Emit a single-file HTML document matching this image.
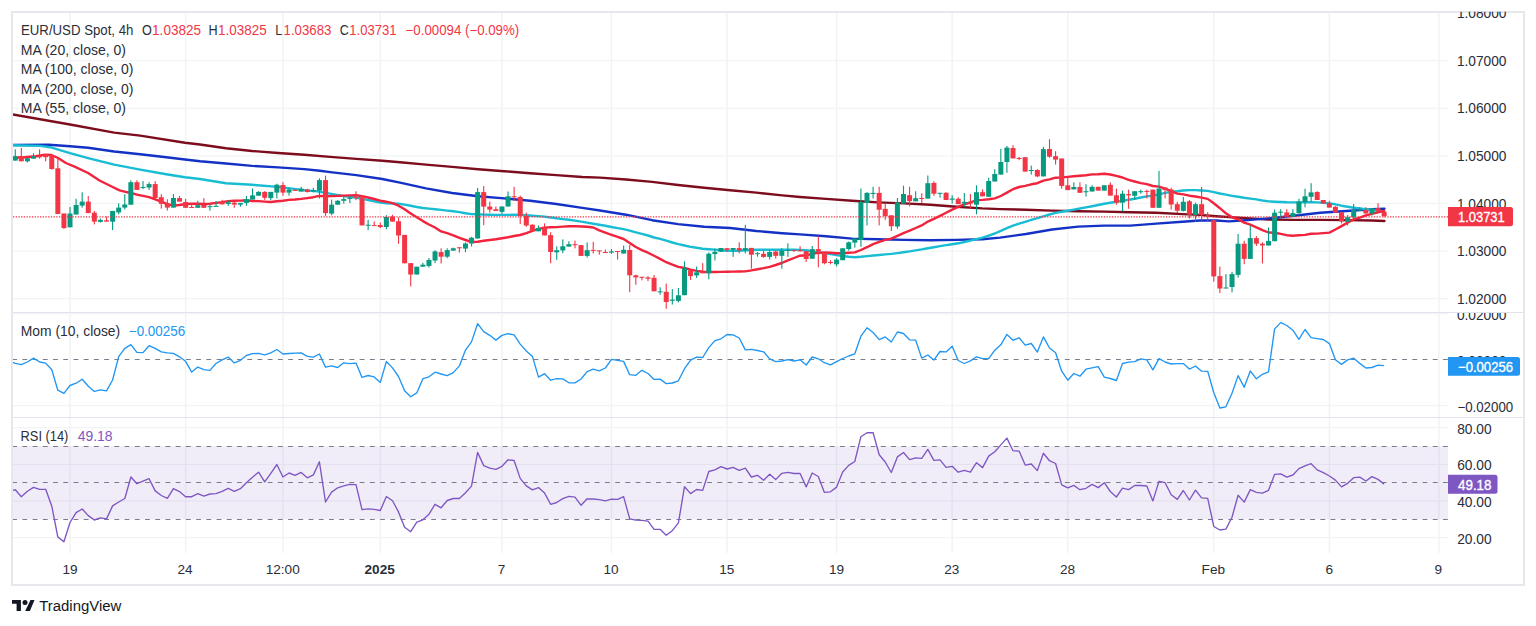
<!DOCTYPE html><html><head><meta charset="utf-8"><title>EUR/USD 4h chart</title><style>html,body{margin:0;padding:0;background:#fff;}body{width:1536px;height:626px;position:relative;overflow:hidden;font-family:"Liberation Sans",sans-serif;}</style></head><body><svg width="1536" height="626" viewBox="0 0 1536 626" style="position:absolute;left:0;top:0" font-family="&quot;Liberation Sans&quot;, sans-serif">
<defs><clipPath id="cm"><rect x="13" y="13" width="1435" height="299"/></clipPath><clipPath id="cmo"><rect x="13" y="313" width="1435" height="104"/></clipPath><clipPath id="cr"><rect x="13" y="418" width="1435" height="135"/></clipPath><clipPath id="cax1"><rect x="1448" y="11.7" width="75" height="300.3"/></clipPath><clipPath id="cax2"><rect x="1448" y="313" width="75" height="104"/></clipPath></defs>
<rect x="69.26" y="13" width="1.5" height="299" fill="#f2f3f5"/>
<rect x="69.26" y="313" width="1.5" height="104" fill="#f2f3f5"/>
<rect x="69.26" y="418" width="1.5" height="135" fill="#f2f3f5"/>
<rect x="184.86" y="13" width="1.5" height="299" fill="#f2f3f5"/>
<rect x="184.86" y="313" width="1.5" height="104" fill="#f2f3f5"/>
<rect x="184.86" y="418" width="1.5" height="135" fill="#f2f3f5"/>
<rect x="282.20" y="13" width="1.5" height="299" fill="#f2f3f5"/>
<rect x="282.20" y="313" width="1.5" height="104" fill="#f2f3f5"/>
<rect x="282.20" y="418" width="1.5" height="135" fill="#f2f3f5"/>
<rect x="379.54" y="13" width="1.5" height="299" fill="#f2f3f5"/>
<rect x="379.54" y="313" width="1.5" height="104" fill="#f2f3f5"/>
<rect x="379.54" y="418" width="1.5" height="135" fill="#f2f3f5"/>
<rect x="501.21" y="13" width="1.5" height="299" fill="#f2f3f5"/>
<rect x="501.21" y="313" width="1.5" height="104" fill="#f2f3f5"/>
<rect x="501.21" y="418" width="1.5" height="135" fill="#f2f3f5"/>
<rect x="610.72" y="13" width="1.5" height="299" fill="#f2f3f5"/>
<rect x="610.72" y="313" width="1.5" height="104" fill="#f2f3f5"/>
<rect x="610.72" y="418" width="1.5" height="135" fill="#f2f3f5"/>
<rect x="726.31" y="13" width="1.5" height="299" fill="#f2f3f5"/>
<rect x="726.31" y="313" width="1.5" height="104" fill="#f2f3f5"/>
<rect x="726.31" y="418" width="1.5" height="135" fill="#f2f3f5"/>
<rect x="835.82" y="13" width="1.5" height="299" fill="#f2f3f5"/>
<rect x="835.82" y="313" width="1.5" height="104" fill="#f2f3f5"/>
<rect x="835.82" y="418" width="1.5" height="135" fill="#f2f3f5"/>
<rect x="951.42" y="13" width="1.5" height="299" fill="#f2f3f5"/>
<rect x="951.42" y="313" width="1.5" height="104" fill="#f2f3f5"/>
<rect x="951.42" y="418" width="1.5" height="135" fill="#f2f3f5"/>
<rect x="1067.01" y="13" width="1.5" height="299" fill="#f2f3f5"/>
<rect x="1067.01" y="313" width="1.5" height="104" fill="#f2f3f5"/>
<rect x="1067.01" y="418" width="1.5" height="135" fill="#f2f3f5"/>
<rect x="1213.02" y="13" width="1.5" height="299" fill="#f2f3f5"/>
<rect x="1213.02" y="313" width="1.5" height="104" fill="#f2f3f5"/>
<rect x="1213.02" y="418" width="1.5" height="135" fill="#f2f3f5"/>
<rect x="1328.61" y="13" width="1.5" height="299" fill="#f2f3f5"/>
<rect x="1328.61" y="313" width="1.5" height="104" fill="#f2f3f5"/>
<rect x="1328.61" y="418" width="1.5" height="135" fill="#f2f3f5"/>
<rect x="1438.12" y="13" width="1.5" height="299" fill="#f2f3f5"/>
<rect x="1438.12" y="313" width="1.5" height="104" fill="#f2f3f5"/>
<rect x="1438.12" y="418" width="1.5" height="135" fill="#f2f3f5"/>
<rect x="13" y="60.00" width="1435" height="1.2" fill="#f2f3f5"/>
<rect x="13" y="107.62" width="1435" height="1.2" fill="#f2f3f5"/>
<rect x="13" y="155.24" width="1435" height="1.2" fill="#f2f3f5"/>
<rect x="13" y="202.86" width="1435" height="1.2" fill="#f2f3f5"/>
<rect x="13" y="250.48" width="1435" height="1.2" fill="#f2f3f5"/>
<rect x="13" y="298.10" width="1435" height="1.2" fill="#f2f3f5"/>
<rect x="13" y="313.20" width="1435" height="1.2" fill="#f2f3f5"/>
<rect x="13" y="405.00" width="1435" height="1.2" fill="#f2f3f5"/>
<rect x="13" y="427.14" width="1435" height="1.2" fill="#f2f3f5"/>
<rect x="13" y="463.76" width="1435" height="1.2" fill="#f2f3f5"/>
<rect x="13" y="500.38" width="1435" height="1.2" fill="#f2f3f5"/>
<rect x="13" y="537.00" width="1435" height="1.2" fill="#f2f3f5"/>
<rect x="13" y="446.05" width="1435" height="73.24" fill="#7e57c2" fill-opacity="0.11"/>
<line x1="12.2" y1="359.50" x2="1448" y2="359.50" stroke="#7a7d88" stroke-width="1.2" stroke-dasharray="4.8 5.42"/>
<line x1="12.2" y1="446.50" x2="1448" y2="446.50" stroke="#7a7d88" stroke-width="1.2" stroke-dasharray="4.8 5.42"/>
<line x1="12.2" y1="482.50" x2="1448" y2="482.50" stroke="#7a7d88" stroke-width="1.2" stroke-dasharray="4.8 5.42"/>
<line x1="12.2" y1="519.50" x2="1448" y2="519.50" stroke="#7a7d88" stroke-width="1.2" stroke-dasharray="4.8 5.42"/>
<rect x="13" y="312" width="1510" height="1" fill="#e0e3eb"/>
<rect x="13" y="417" width="1510" height="1" fill="#e0e3eb"/>
<path d="M11 11H1525V586H11Z M13 13V584H1523V13Z" fill="#e6e8ed" fill-rule="evenodd"/>
<g clip-path="url(#cm)" fill="none" stroke-linejoin="round" stroke-linecap="round">
<polyline points="12.6,114.4 70.0,124.5 114.2,132.6 140.2,135.6 185.0,142.8 200.0,144.5 226.0,148.2 252.1,151.0 278.1,153.0 304.2,154.7 330.2,156.9 356.3,158.9 382.3,160.8 400.0,162.3 426.0,164.6 452.1,166.9 478.1,169.3 504.2,171.2 530.2,173.2 556.3,175.1 582.3,177.0 600.0,177.6 626.0,179.5 652.1,181.9 678.1,185.0 704.2,187.7 730.2,190.2 756.3,192.6 782.3,195.4 800.0,197.0 826.0,198.9 852.1,200.8 878.1,202.4 904.2,203.4 930.2,204.7 956.3,206.7 982.3,208.4 1000.0,209.1 1026.0,209.7 1052.1,210.6 1078.1,211.3 1104.2,211.6 1130.2,212.3 1156.3,212.8 1182.3,214.1 1200.0,214.9 1216.0,216.2 1242.1,217.9 1268.1,219.5 1294.2,219.9 1320.2,219.9 1346.3,220.1 1372.3,220.5 1384.5,221.0" stroke="#7d0c1c" stroke-width="2.4"/>
<polyline points="12.6,145.0 49.0,144.7 70.0,146.3 88.1,147.8 114.2,151.5 140.2,154.3 166.2,157.3 185.0,159.5 200.0,161.3 226.0,163.5 252.1,165.9 278.1,167.4 304.2,169.1 319.8,170.8 330.2,172.1 356.3,175.1 382.3,179.0 400.0,182.7 426.0,188.4 452.1,193.0 478.1,196.2 504.2,198.4 530.2,200.8 556.3,204.0 582.3,207.9 600.0,210.5 626.0,214.7 652.1,220.2 678.1,224.1 704.2,226.7 730.2,228.0 756.3,231.0 782.3,233.2 800.0,234.4 826.0,236.3 852.1,238.6 878.1,239.2 904.2,239.9 930.2,240.2 956.3,239.9 982.3,239.2 1000.0,237.6 1026.0,234.0 1052.1,229.5 1078.1,226.6 1104.2,225.6 1130.2,225.6 1156.3,223.6 1182.3,221.7 1200.0,220.5 1216.0,220.5 1229.0,221.4 1242.1,220.5 1268.1,218.4 1294.2,215.8 1320.2,212.7 1346.3,211.0 1372.3,209.3 1384.5,208.8" stroke="#1431c6" stroke-width="2.4"/>
<polyline points="12.6,145.2 40.0,145.9 50.0,147.2 70.0,153.2 88.1,158.1 114.2,164.6 140.2,169.6 166.2,174.2 185.0,177.2 200.0,179.0 226.0,183.2 252.1,184.8 278.1,186.9 304.2,190.1 317.2,191.4 343.8,196.1 349.9,196.9 356.0,197.5 362.0,198.8 368.1,200.0 374.2,201.2 380.3,202.5 386.4,203.4 392.5,203.5 398.5,203.7 404.6,204.6 410.7,205.8 416.8,207.0 422.9,208.0 429.0,208.6 435.0,209.2 441.1,209.9 447.2,210.6 453.3,211.3 459.4,212.1 465.5,213.2 471.5,214.1 477.6,214.2 483.7,214.6 489.8,214.8 495.9,214.9 502.0,214.9 508.0,214.9 514.1,214.8 520.2,214.9 526.3,215.3 532.4,215.7 538.5,216.1 544.6,216.6 550.6,217.5 556.7,218.3 562.8,219.1 568.9,219.8 575.0,220.6 581.1,221.6 587.1,222.6 593.2,223.7 599.3,224.7 605.4,225.8 611.5,227.0 617.6,228.1 623.6,229.1 629.7,230.7 635.8,232.3 641.9,233.9 648.0,235.5 654.1,237.5 660.1,238.9 666.2,240.7 672.3,242.5 678.4,244.2 684.5,245.5 690.6,246.9 696.6,247.8 702.7,248.7 708.8,249.2 714.9,249.6 721.0,250.2 727.1,250.7 733.1,250.9 739.2,250.7 745.3,250.2 751.4,250.0 757.5,249.8 763.6,249.7 769.7,249.7 775.7,249.7 781.8,249.7 787.9,249.8 794.0,249.8 800.1,249.9 806.2,250.3 812.2,251.4 818.3,252.2 824.4,253.2 830.5,254.1 836.6,255.1 842.7,256.0 848.7,256.8 854.8,257.2 860.9,256.8 867.0,256.1 873.1,255.5 879.2,255.0 885.2,254.4 891.3,253.9 897.4,253.1 903.5,252.2 909.6,251.4 915.7,250.4 921.7,249.4 927.8,248.2 933.9,247.2 940.0,246.1 946.1,245.1 952.2,244.2 958.2,243.3 964.3,242.0 970.4,240.7 976.5,239.1 982.6,237.6 988.7,235.6 994.8,233.5 1000.8,230.9 1006.9,228.2 1013.0,225.7 1019.1,223.7 1025.2,221.8 1031.3,219.9 1037.3,218.2 1043.4,216.3 1049.5,214.5 1055.6,212.9 1061.7,211.8 1067.8,210.7 1073.8,209.6 1079.9,208.5 1086.0,207.4 1092.1,206.2 1098.2,205.0 1104.3,203.8 1110.3,202.7 1116.4,201.8 1122.5,200.8 1128.6,199.8 1134.7,198.7 1140.8,197.5 1146.8,196.4 1152.9,195.6 1159.0,194.3 1165.1,192.9 1171.2,191.9 1177.3,191.3 1183.3,190.5 1189.4,190.1 1195.5,190.1 1201.6,190.5 1207.7,190.9 1213.8,192.2 1219.9,193.5 1225.9,194.6 1232.0,195.9 1238.1,196.8 1244.2,197.8 1250.3,198.6 1256.4,199.4 1262.4,200.5 1268.5,201.4 1274.6,201.7 1280.7,202.0 1286.8,202.3 1292.9,202.4 1298.9,202.4 1305.0,202.3 1311.1,202.3 1317.2,202.4 1323.3,202.8 1329.4,203.4 1335.4,204.3 1341.5,205.7 1347.6,206.7 1353.7,207.7 1359.8,208.4 1365.9,209.1 1371.9,209.7 1378.0,210.9 1384.1,211.9" stroke="#18bdd3" stroke-width="2.4"/>
<polyline points="12.6,157.7 24.5,157.2 36.0,156.2 44.7,154.6 51.4,155.0 58.1,158.0 65.9,163.0 75.1,166.8 88.1,173.0 99.5,180.5 111.6,186.5 119.6,190.4 127.5,192.3 130.9,192.9 136.9,194.6 143.0,195.9 149.1,197.2 155.2,199.3 161.3,201.6 167.4,204.2 173.4,205.6 179.5,205.0 185.6,204.0 191.7,203.7 197.8,203.7 203.9,204.0 209.9,203.7 216.0,202.9 222.1,202.1 228.2,201.1 234.3,200.8 240.4,200.6 246.4,200.3 252.5,201.0 258.6,201.1 264.7,201.6 270.8,202.0 276.9,201.3 282.9,200.8 289.0,199.9 295.1,199.5 301.2,198.9 307.3,198.1 313.4,197.2 319.4,195.9 325.5,196.2 331.6,196.1 337.7,195.9 343.8,195.6 349.9,195.4 356.0,195.1 362.0,196.2 368.1,197.5 374.2,199.0 380.3,200.7 386.4,201.7 392.5,203.2 398.5,205.7 404.6,209.2 410.7,213.5 416.8,217.3 422.9,221.1 429.0,224.5 435.0,227.5 441.1,231.4 447.2,233.2 453.3,235.4 459.4,237.8 465.5,240.0 471.5,242.0 477.6,241.7 483.7,240.8 489.8,240.0 495.9,239.3 502.0,238.2 508.0,237.2 514.1,236.0 520.2,235.0 526.3,233.1 532.4,230.9 538.5,229.0 544.6,227.6 550.6,227.2 556.7,227.1 562.8,226.6 568.9,226.3 575.0,226.1 581.1,226.5 587.1,226.8 593.2,227.5 599.3,230.4 605.4,232.7 611.5,234.8 617.6,236.8 623.6,239.0 629.7,243.0 635.8,247.0 641.9,250.1 648.0,252.7 654.1,255.8 660.1,258.9 666.2,262.2 672.3,264.6 678.4,266.9 684.5,268.0 690.6,269.6 696.6,270.9 702.7,271.8 708.8,272.0 714.9,272.0 721.0,271.9 727.1,271.8 733.1,271.6 739.2,271.5 745.3,271.4 751.4,270.4 757.5,269.2 763.6,268.1 769.7,266.8 775.7,265.0 781.8,263.0 787.9,260.4 794.0,258.0 800.1,255.7 806.2,255.3 812.2,253.9 818.3,252.9 824.4,252.4 830.5,252.8 836.6,253.2 842.7,253.2 848.7,252.8 854.8,252.4 860.9,250.0 867.0,247.2 873.1,244.1 879.2,241.9 885.2,239.9 891.3,238.6 897.4,235.9 903.5,233.1 909.6,230.7 915.7,228.0 921.7,225.4 927.8,221.6 933.9,218.9 940.0,215.9 946.1,212.8 952.2,209.6 958.2,206.8 964.3,204.4 970.4,202.5 976.5,200.2 982.6,199.9 988.7,199.3 994.8,198.4 1000.8,196.0 1006.9,192.6 1013.0,189.2 1019.1,187.0 1025.2,185.9 1031.3,184.3 1037.3,183.2 1043.4,180.7 1049.5,179.4 1055.6,177.7 1061.7,177.4 1067.8,176.9 1073.8,176.3 1079.9,175.7 1086.0,175.2 1092.1,174.4 1098.2,174.3 1104.3,173.7 1110.3,174.5 1116.4,175.9 1122.5,177.5 1128.6,179.9 1134.7,181.5 1140.8,183.1 1146.8,184.1 1152.9,186.0 1159.0,186.6 1165.1,188.7 1171.2,191.1 1177.3,193.6 1183.3,194.4 1189.4,195.7 1195.5,196.5 1201.6,197.6 1207.7,198.9 1213.8,203.3 1219.9,208.2 1225.9,213.3 1232.0,217.3 1238.1,219.3 1244.2,222.6 1250.3,224.7 1256.4,227.3 1262.4,230.1 1268.5,232.5 1274.6,232.8 1280.7,233.9 1286.8,235.2 1292.9,235.7 1298.9,235.2 1305.0,234.9 1311.1,233.8 1317.2,233.6 1323.3,233.1 1329.4,232.6 1335.4,229.5 1341.5,226.1 1347.6,222.6 1353.7,219.4 1359.8,217.7 1365.9,215.4 1371.9,213.9 1378.0,212.3 1384.1,210.8" stroke="#f2233d" stroke-width="2.4"/>
</g>
<g clip-path="url(#cm)">
<rect x="14.71" y="149.3" width="1.1" height="11.3" fill="#089981"/>
<rect x="12.76" y="156.3" width="5.0" height="4.3" fill="#089981"/>
<rect x="20.79" y="147.9" width="1.1" height="13.4" fill="#F23645"/>
<rect x="18.84" y="156.1" width="5.0" height="5.2" fill="#F23645"/>
<rect x="26.88" y="158.2" width="1.1" height="4.3" fill="#089981"/>
<rect x="24.93" y="158.2" width="5.0" height="3.1" fill="#089981"/>
<rect x="32.96" y="153.2" width="1.1" height="5.5" fill="#089981"/>
<rect x="31.01" y="156.0" width="5.0" height="2.7" fill="#089981"/>
<rect x="39.05" y="149.3" width="1.1" height="9.4" fill="#F23645"/>
<rect x="37.10" y="155.8" width="5.0" height="1.5" fill="#F23645"/>
<rect x="45.13" y="153.9" width="1.1" height="7.4" fill="#F23645"/>
<rect x="43.18" y="154.6" width="5.0" height="2.6" fill="#F23645"/>
<rect x="51.21" y="154.4" width="1.1" height="15.3" fill="#F23645"/>
<rect x="49.26" y="155.4" width="5.0" height="13.6" fill="#F23645"/>
<rect x="57.30" y="158.8" width="1.1" height="55.2" fill="#F23645"/>
<rect x="55.35" y="168.3" width="5.0" height="45.7" fill="#F23645"/>
<rect x="63.38" y="213.5" width="1.1" height="15.5" fill="#F23645"/>
<rect x="61.43" y="213.5" width="5.0" height="14.5" fill="#F23645"/>
<rect x="69.46" y="207.0" width="1.1" height="20.3" fill="#089981"/>
<rect x="67.51" y="213.5" width="5.0" height="13.8" fill="#089981"/>
<rect x="75.55" y="198.8" width="1.1" height="15.7" fill="#089981"/>
<rect x="73.60" y="205.0" width="5.0" height="9.5" fill="#089981"/>
<rect x="81.63" y="192.3" width="1.1" height="15.4" fill="#089981"/>
<rect x="79.68" y="201.6" width="5.0" height="4.0" fill="#089981"/>
<rect x="87.72" y="196.1" width="1.1" height="17.0" fill="#F23645"/>
<rect x="85.77" y="201.6" width="5.0" height="11.5" fill="#F23645"/>
<rect x="93.80" y="211.0" width="1.1" height="13.4" fill="#F23645"/>
<rect x="91.85" y="212.7" width="5.0" height="8.9" fill="#F23645"/>
<rect x="99.88" y="218.5" width="1.1" height="4.1" fill="#089981"/>
<rect x="97.93" y="219.9" width="5.0" height="2.0" fill="#089981"/>
<rect x="105.97" y="216.5" width="1.1" height="5.1" fill="#F23645"/>
<rect x="104.02" y="220.3" width="5.0" height="1.3" fill="#F23645"/>
<rect x="112.05" y="210.8" width="1.1" height="19.3" fill="#089981"/>
<rect x="110.10" y="211.0" width="5.0" height="10.7" fill="#089981"/>
<rect x="118.13" y="203.3" width="1.1" height="11.0" fill="#089981"/>
<rect x="116.18" y="207.6" width="5.0" height="4.8" fill="#089981"/>
<rect x="124.22" y="194.2" width="1.1" height="15.3" fill="#089981"/>
<rect x="122.27" y="204.5" width="5.0" height="3.1" fill="#089981"/>
<rect x="130.30" y="180.3" width="1.1" height="24.4" fill="#089981"/>
<rect x="128.35" y="182.2" width="5.0" height="22.5" fill="#089981"/>
<rect x="136.39" y="180.3" width="1.1" height="9.6" fill="#F23645"/>
<rect x="134.44" y="182.2" width="5.0" height="7.7" fill="#F23645"/>
<rect x="142.47" y="181.2" width="1.1" height="8.0" fill="#089981"/>
<rect x="140.52" y="187.0" width="5.0" height="1.0" fill="#089981"/>
<rect x="148.55" y="182.2" width="1.1" height="7.7" fill="#089981"/>
<rect x="146.60" y="184.1" width="5.0" height="3.4" fill="#089981"/>
<rect x="154.64" y="181.2" width="1.1" height="16.8" fill="#F23645"/>
<rect x="152.69" y="184.1" width="5.0" height="13.9" fill="#F23645"/>
<rect x="160.72" y="194.2" width="1.1" height="14.4" fill="#F23645"/>
<rect x="158.77" y="197.2" width="5.0" height="6.6" fill="#F23645"/>
<rect x="166.80" y="199.2" width="1.1" height="11.3" fill="#F23645"/>
<rect x="164.85" y="203.3" width="5.0" height="4.3" fill="#F23645"/>
<rect x="172.89" y="194.2" width="1.1" height="13.4" fill="#089981"/>
<rect x="170.94" y="198.0" width="5.0" height="9.6" fill="#089981"/>
<rect x="178.97" y="196.0" width="1.1" height="5.6" fill="#F23645"/>
<rect x="177.02" y="198.1" width="5.0" height="3.5" fill="#F23645"/>
<rect x="185.06" y="198.8" width="1.1" height="9.0" fill="#F23645"/>
<rect x="183.11" y="202.0" width="5.0" height="5.8" fill="#F23645"/>
<rect x="191.14" y="204.0" width="1.1" height="3.8" fill="#F23645"/>
<rect x="189.19" y="207.0" width="5.0" height="1.0" fill="#F23645"/>
<rect x="197.22" y="200.8" width="1.1" height="7.0" fill="#089981"/>
<rect x="195.27" y="205.2" width="5.0" height="2.6" fill="#089981"/>
<rect x="203.31" y="198.2" width="1.1" height="9.6" fill="#F23645"/>
<rect x="201.36" y="204.9" width="5.0" height="2.9" fill="#F23645"/>
<rect x="209.39" y="204.3" width="1.1" height="6.4" fill="#089981"/>
<rect x="207.44" y="206.2" width="5.0" height="1.0" fill="#089981"/>
<rect x="215.48" y="201.0" width="1.1" height="5.7" fill="#089981"/>
<rect x="213.53" y="205.9" width="5.0" height="1.0" fill="#089981"/>
<rect x="221.56" y="199.8" width="1.1" height="4.8" fill="#F23645"/>
<rect x="219.61" y="201.7" width="5.0" height="2.6" fill="#F23645"/>
<rect x="227.64" y="200.4" width="1.1" height="5.5" fill="#089981"/>
<rect x="225.69" y="202.3" width="5.0" height="1.7" fill="#089981"/>
<rect x="233.73" y="201.0" width="1.1" height="6.8" fill="#F23645"/>
<rect x="231.78" y="202.7" width="5.0" height="1.9" fill="#F23645"/>
<rect x="239.81" y="202.9" width="1.1" height="3.8" fill="#089981"/>
<rect x="237.86" y="202.9" width="5.0" height="1.7" fill="#089981"/>
<rect x="245.89" y="196.0" width="1.1" height="9.7" fill="#089981"/>
<rect x="243.94" y="199.1" width="5.0" height="3.8" fill="#089981"/>
<rect x="251.98" y="188.5" width="1.1" height="11.0" fill="#089981"/>
<rect x="250.03" y="195.4" width="5.0" height="4.1" fill="#089981"/>
<rect x="258.06" y="191.2" width="1.1" height="4.5" fill="#089981"/>
<rect x="256.11" y="191.9" width="5.0" height="3.8" fill="#089981"/>
<rect x="264.15" y="191.2" width="1.1" height="8.6" fill="#F23645"/>
<rect x="262.20" y="191.9" width="5.0" height="5.9" fill="#F23645"/>
<rect x="270.23" y="191.9" width="1.1" height="8.3" fill="#089981"/>
<rect x="268.28" y="191.9" width="5.0" height="6.2" fill="#089981"/>
<rect x="276.31" y="183.7" width="1.1" height="14.7" fill="#089981"/>
<rect x="274.36" y="184.7" width="5.0" height="7.9" fill="#089981"/>
<rect x="282.40" y="182.2" width="1.1" height="13.5" fill="#F23645"/>
<rect x="280.45" y="185.0" width="5.0" height="7.6" fill="#F23645"/>
<rect x="288.48" y="187.8" width="1.1" height="7.9" fill="#089981"/>
<rect x="286.53" y="189.5" width="5.0" height="3.1" fill="#089981"/>
<rect x="294.56" y="189.7" width="1.1" height="1.2" fill="#F23645"/>
<rect x="292.61" y="189.7" width="5.0" height="1.2" fill="#F23645"/>
<rect x="300.65" y="186.8" width="1.1" height="4.8" fill="#089981"/>
<rect x="298.70" y="188.8" width="5.0" height="2.8" fill="#089981"/>
<rect x="306.73" y="188.8" width="1.1" height="3.8" fill="#F23645"/>
<rect x="304.78" y="189.5" width="5.0" height="2.5" fill="#F23645"/>
<rect x="312.82" y="187.7" width="1.1" height="4.7" fill="#089981"/>
<rect x="310.87" y="190.1" width="5.0" height="1.4" fill="#089981"/>
<rect x="318.90" y="178.4" width="1.1" height="20.1" fill="#089981"/>
<rect x="316.95" y="180.1" width="5.0" height="10.6" fill="#089981"/>
<rect x="324.98" y="175.6" width="1.1" height="40.3" fill="#F23645"/>
<rect x="323.03" y="180.1" width="5.0" height="33.0" fill="#F23645"/>
<rect x="331.07" y="199.6" width="1.1" height="15.7" fill="#089981"/>
<rect x="329.12" y="204.7" width="5.0" height="8.9" fill="#089981"/>
<rect x="337.15" y="200.0" width="1.1" height="4.7" fill="#089981"/>
<rect x="335.20" y="200.8" width="5.0" height="3.9" fill="#089981"/>
<rect x="343.24" y="196.3" width="1.1" height="7.3" fill="#089981"/>
<rect x="341.29" y="199.1" width="5.0" height="1.7" fill="#089981"/>
<rect x="349.32" y="196.8" width="1.1" height="6.2" fill="#089981"/>
<rect x="347.37" y="197.7" width="5.0" height="1.2" fill="#089981"/>
<rect x="355.40" y="191.3" width="1.1" height="8.9" fill="#F23645"/>
<rect x="353.45" y="196.8" width="5.0" height="1.2" fill="#F23645"/>
<rect x="361.49" y="197.4" width="1.1" height="28.0" fill="#F23645"/>
<rect x="359.54" y="197.4" width="5.0" height="28.0" fill="#F23645"/>
<rect x="367.57" y="219.9" width="1.1" height="10.2" fill="#089981"/>
<rect x="365.62" y="224.7" width="5.0" height="1.0" fill="#089981"/>
<rect x="373.65" y="221.3" width="1.1" height="4.3" fill="#F23645"/>
<rect x="371.70" y="225.1" width="5.0" height="1.0" fill="#F23645"/>
<rect x="379.74" y="222.6" width="1.1" height="5.5" fill="#F23645"/>
<rect x="377.79" y="225.1" width="5.0" height="1.9" fill="#F23645"/>
<rect x="385.82" y="215.2" width="1.1" height="14.0" fill="#089981"/>
<rect x="383.87" y="216.9" width="5.0" height="10.1" fill="#089981"/>
<rect x="391.91" y="214.8" width="1.1" height="6.8" fill="#F23645"/>
<rect x="389.96" y="216.5" width="5.0" height="5.1" fill="#F23645"/>
<rect x="397.99" y="217.5" width="1.1" height="26.2" fill="#F23645"/>
<rect x="396.04" y="221.3" width="5.0" height="14.2" fill="#F23645"/>
<rect x="404.07" y="234.9" width="1.1" height="28.4" fill="#F23645"/>
<rect x="402.12" y="234.9" width="5.0" height="28.4" fill="#F23645"/>
<rect x="410.16" y="263.1" width="1.1" height="23.3" fill="#F23645"/>
<rect x="408.21" y="263.1" width="5.0" height="11.4" fill="#F23645"/>
<rect x="416.24" y="266.7" width="1.1" height="7.8" fill="#089981"/>
<rect x="414.29" y="266.7" width="5.0" height="7.8" fill="#089981"/>
<rect x="422.32" y="262.7" width="1.1" height="4.0" fill="#089981"/>
<rect x="420.37" y="264.7" width="5.0" height="2.0" fill="#089981"/>
<rect x="428.41" y="258.0" width="1.1" height="9.4" fill="#089981"/>
<rect x="426.46" y="260.0" width="5.0" height="6.0" fill="#089981"/>
<rect x="434.49" y="250.1" width="1.1" height="13.1" fill="#089981"/>
<rect x="432.54" y="251.4" width="5.0" height="9.1" fill="#089981"/>
<rect x="440.58" y="248.3" width="1.1" height="15.2" fill="#F23645"/>
<rect x="438.63" y="252.1" width="5.0" height="4.6" fill="#F23645"/>
<rect x="446.66" y="248.3" width="1.1" height="9.9" fill="#089981"/>
<rect x="444.71" y="250.1" width="5.0" height="6.6" fill="#089981"/>
<rect x="452.74" y="247.6" width="1.1" height="3.0" fill="#089981"/>
<rect x="450.79" y="248.3" width="5.0" height="2.3" fill="#089981"/>
<rect x="458.83" y="247.3" width="1.1" height="5.3" fill="#F23645"/>
<rect x="456.88" y="247.3" width="5.0" height="1.0" fill="#F23645"/>
<rect x="464.91" y="242.3" width="1.1" height="9.8" fill="#089981"/>
<rect x="462.96" y="243.5" width="5.0" height="5.1" fill="#089981"/>
<rect x="471.00" y="236.9" width="1.1" height="9.6" fill="#089981"/>
<rect x="469.05" y="237.7" width="5.0" height="5.8" fill="#089981"/>
<rect x="477.08" y="187.9" width="1.1" height="50.6" fill="#089981"/>
<rect x="475.13" y="192.1" width="5.0" height="46.4" fill="#089981"/>
<rect x="483.16" y="186.1" width="1.1" height="39.1" fill="#F23645"/>
<rect x="481.21" y="192.1" width="5.0" height="14.5" fill="#F23645"/>
<rect x="489.25" y="201.6" width="1.1" height="11.0" fill="#F23645"/>
<rect x="487.30" y="206.6" width="5.0" height="3.0" fill="#F23645"/>
<rect x="495.33" y="206.5" width="1.1" height="4.4" fill="#F23645"/>
<rect x="493.38" y="209.2" width="5.0" height="1.7" fill="#F23645"/>
<rect x="501.41" y="206.5" width="1.1" height="7.4" fill="#089981"/>
<rect x="499.46" y="206.5" width="5.0" height="5.4" fill="#089981"/>
<rect x="507.50" y="191.5" width="1.1" height="15.0" fill="#089981"/>
<rect x="505.55" y="196.3" width="5.0" height="10.2" fill="#089981"/>
<rect x="513.58" y="186.8" width="1.1" height="14.2" fill="#F23645"/>
<rect x="511.63" y="196.3" width="5.0" height="1.0" fill="#F23645"/>
<rect x="519.67" y="195.6" width="1.1" height="28.5" fill="#F23645"/>
<rect x="517.72" y="197.0" width="5.0" height="19.0" fill="#F23645"/>
<rect x="525.75" y="212.6" width="1.1" height="14.2" fill="#F23645"/>
<rect x="523.80" y="216.0" width="5.0" height="9.5" fill="#F23645"/>
<rect x="531.83" y="224.1" width="1.1" height="6.8" fill="#F23645"/>
<rect x="529.88" y="224.8" width="5.0" height="6.1" fill="#F23645"/>
<rect x="537.92" y="225.5" width="1.1" height="5.8" fill="#089981"/>
<rect x="535.97" y="228.2" width="5.0" height="3.1" fill="#089981"/>
<rect x="544.00" y="223.4" width="1.1" height="12.0" fill="#F23645"/>
<rect x="542.05" y="226.8" width="5.0" height="8.6" fill="#F23645"/>
<rect x="550.08" y="232.2" width="1.1" height="31.0" fill="#F23645"/>
<rect x="548.13" y="235.1" width="5.0" height="16.9" fill="#F23645"/>
<rect x="556.17" y="246.3" width="1.1" height="13.5" fill="#089981"/>
<rect x="554.22" y="250.2" width="5.0" height="2.1" fill="#089981"/>
<rect x="562.25" y="239.4" width="1.1" height="13.8" fill="#089981"/>
<rect x="560.30" y="246.3" width="5.0" height="4.1" fill="#089981"/>
<rect x="568.34" y="241.2" width="1.1" height="5.4" fill="#089981"/>
<rect x="566.39" y="244.2" width="5.0" height="2.4" fill="#089981"/>
<rect x="574.42" y="240.6" width="1.1" height="7.8" fill="#F23645"/>
<rect x="572.47" y="244.2" width="5.0" height="1.0" fill="#F23645"/>
<rect x="580.50" y="245.1" width="1.1" height="10.8" fill="#F23645"/>
<rect x="578.55" y="245.1" width="5.0" height="10.8" fill="#F23645"/>
<rect x="586.59" y="242.4" width="1.1" height="15.2" fill="#089981"/>
<rect x="584.64" y="250.2" width="5.0" height="5.7" fill="#089981"/>
<rect x="592.67" y="241.8" width="1.1" height="11.7" fill="#F23645"/>
<rect x="590.72" y="249.9" width="5.0" height="1.0" fill="#F23645"/>
<rect x="598.75" y="250.4" width="1.1" height="4.3" fill="#F23645"/>
<rect x="596.80" y="250.4" width="5.0" height="1.0" fill="#F23645"/>
<rect x="604.84" y="249.6" width="1.1" height="3.0" fill="#F23645"/>
<rect x="602.89" y="252.0" width="5.0" height="1.0" fill="#F23645"/>
<rect x="610.92" y="249.0" width="1.1" height="4.8" fill="#089981"/>
<rect x="608.97" y="251.4" width="5.0" height="1.2" fill="#089981"/>
<rect x="617.01" y="251.0" width="1.1" height="8.6" fill="#F23645"/>
<rect x="615.06" y="251.0" width="5.0" height="1.0" fill="#F23645"/>
<rect x="623.09" y="245.5" width="1.1" height="8.0" fill="#089981"/>
<rect x="621.14" y="249.8" width="5.0" height="3.7" fill="#089981"/>
<rect x="629.17" y="244.8" width="1.1" height="47.4" fill="#F23645"/>
<rect x="627.22" y="250.0" width="5.0" height="25.3" fill="#F23645"/>
<rect x="635.26" y="274.6" width="1.1" height="10.2" fill="#F23645"/>
<rect x="633.31" y="275.3" width="5.0" height="2.1" fill="#F23645"/>
<rect x="641.34" y="276.8" width="1.1" height="3.5" fill="#F23645"/>
<rect x="639.39" y="276.8" width="5.0" height="1.0" fill="#F23645"/>
<rect x="647.43" y="276.2" width="1.1" height="4.9" fill="#F23645"/>
<rect x="645.48" y="277.4" width="5.0" height="1.3" fill="#F23645"/>
<rect x="653.51" y="275.0" width="1.1" height="16.3" fill="#F23645"/>
<rect x="651.56" y="277.8" width="5.0" height="13.5" fill="#F23645"/>
<rect x="659.59" y="287.3" width="1.1" height="7.4" fill="#089981"/>
<rect x="657.64" y="291.3" width="5.0" height="1.0" fill="#089981"/>
<rect x="665.68" y="283.6" width="1.1" height="25.2" fill="#F23645"/>
<rect x="663.73" y="291.8" width="5.0" height="10.2" fill="#F23645"/>
<rect x="671.76" y="289.1" width="1.1" height="15.4" fill="#089981"/>
<rect x="669.81" y="299.6" width="5.0" height="1.2" fill="#089981"/>
<rect x="677.84" y="288.0" width="1.1" height="14.4" fill="#089981"/>
<rect x="675.89" y="295.3" width="5.0" height="5.6" fill="#089981"/>
<rect x="683.93" y="261.4" width="1.1" height="33.8" fill="#089981"/>
<rect x="681.98" y="268.4" width="5.0" height="26.8" fill="#089981"/>
<rect x="690.01" y="270.3" width="1.1" height="9.6" fill="#F23645"/>
<rect x="688.06" y="270.3" width="5.0" height="5.8" fill="#F23645"/>
<rect x="696.10" y="266.5" width="1.1" height="11.5" fill="#089981"/>
<rect x="694.15" y="272.3" width="5.0" height="3.1" fill="#089981"/>
<rect x="702.18" y="263.1" width="1.1" height="10.2" fill="#F23645"/>
<rect x="700.23" y="272.3" width="5.0" height="1.0" fill="#F23645"/>
<rect x="708.26" y="252.5" width="1.1" height="26.8" fill="#089981"/>
<rect x="706.31" y="253.7" width="5.0" height="19.6" fill="#089981"/>
<rect x="714.35" y="248.6" width="1.1" height="11.9" fill="#089981"/>
<rect x="712.40" y="251.8" width="5.0" height="2.3" fill="#089981"/>
<rect x="720.43" y="248.0" width="1.1" height="3.8" fill="#089981"/>
<rect x="718.48" y="248.0" width="5.0" height="3.8" fill="#089981"/>
<rect x="726.51" y="248.2" width="1.1" height="3.6" fill="#F23645"/>
<rect x="724.56" y="248.2" width="5.0" height="1.7" fill="#F23645"/>
<rect x="732.60" y="248.0" width="1.1" height="8.9" fill="#089981"/>
<rect x="730.65" y="248.0" width="5.0" height="1.9" fill="#089981"/>
<rect x="738.68" y="242.3" width="1.1" height="11.0" fill="#F23645"/>
<rect x="736.73" y="248.1" width="5.0" height="2.3" fill="#F23645"/>
<rect x="744.77" y="224.8" width="1.1" height="28.6" fill="#089981"/>
<rect x="742.82" y="248.1" width="5.0" height="2.2" fill="#089981"/>
<rect x="750.85" y="247.9" width="1.1" height="20.8" fill="#F23645"/>
<rect x="748.90" y="247.9" width="5.0" height="6.8" fill="#F23645"/>
<rect x="756.93" y="252.0" width="1.1" height="4.7" fill="#089981"/>
<rect x="754.98" y="253.2" width="5.0" height="1.0" fill="#089981"/>
<rect x="763.02" y="250.9" width="1.1" height="6.9" fill="#F23645"/>
<rect x="761.07" y="253.8" width="5.0" height="3.1" fill="#F23645"/>
<rect x="769.10" y="250.3" width="1.1" height="9.2" fill="#089981"/>
<rect x="767.15" y="252.0" width="5.0" height="4.9" fill="#089981"/>
<rect x="775.19" y="250.7" width="1.1" height="7.9" fill="#F23645"/>
<rect x="773.24" y="251.6" width="5.0" height="4.2" fill="#F23645"/>
<rect x="781.27" y="248.1" width="1.1" height="20.6" fill="#089981"/>
<rect x="779.32" y="250.7" width="5.0" height="5.1" fill="#089981"/>
<rect x="787.35" y="243.3" width="1.1" height="13.6" fill="#089981"/>
<rect x="785.40" y="250.0" width="5.0" height="1.0" fill="#089981"/>
<rect x="793.44" y="249.9" width="1.1" height="2.1" fill="#F23645"/>
<rect x="791.49" y="249.9" width="5.0" height="1.0" fill="#F23645"/>
<rect x="799.52" y="246.2" width="1.1" height="5.4" fill="#F23645"/>
<rect x="797.57" y="250.3" width="5.0" height="1.0" fill="#F23645"/>
<rect x="805.60" y="251.1" width="1.1" height="10.9" fill="#F23645"/>
<rect x="803.65" y="251.1" width="5.0" height="7.9" fill="#F23645"/>
<rect x="811.69" y="246.0" width="1.1" height="12.7" fill="#089981"/>
<rect x="809.74" y="249.1" width="5.0" height="9.6" fill="#089981"/>
<rect x="817.77" y="236.2" width="1.1" height="31.1" fill="#F23645"/>
<rect x="815.82" y="249.1" width="5.0" height="2.3" fill="#F23645"/>
<rect x="823.86" y="252.6" width="1.1" height="11.7" fill="#F23645"/>
<rect x="821.91" y="252.6" width="5.0" height="10.6" fill="#F23645"/>
<rect x="829.94" y="260.2" width="1.1" height="4.1" fill="#F23645"/>
<rect x="827.99" y="262.0" width="5.0" height="1.0" fill="#F23645"/>
<rect x="836.02" y="258.2" width="1.1" height="8.3" fill="#089981"/>
<rect x="834.07" y="259.7" width="5.0" height="4.6" fill="#089981"/>
<rect x="842.11" y="248.3" width="1.1" height="11.9" fill="#089981"/>
<rect x="840.16" y="248.3" width="5.0" height="11.9" fill="#089981"/>
<rect x="848.19" y="241.5" width="1.1" height="9.1" fill="#089981"/>
<rect x="846.24" y="242.3" width="5.0" height="6.8" fill="#089981"/>
<rect x="854.27" y="238.5" width="1.1" height="9.1" fill="#089981"/>
<rect x="852.32" y="238.5" width="5.0" height="4.1" fill="#089981"/>
<rect x="860.36" y="188.5" width="1.1" height="58.3" fill="#089981"/>
<rect x="858.41" y="202.0" width="5.0" height="38.0" fill="#089981"/>
<rect x="866.44" y="192.1" width="1.1" height="33.3" fill="#089981"/>
<rect x="864.49" y="192.9" width="5.0" height="10.1" fill="#089981"/>
<rect x="872.53" y="186.8" width="1.1" height="11.7" fill="#089981"/>
<rect x="870.58" y="192.9" width="5.0" height="1.1" fill="#089981"/>
<rect x="878.61" y="186.8" width="1.1" height="38.6" fill="#F23645"/>
<rect x="876.66" y="192.9" width="5.0" height="16.8" fill="#F23645"/>
<rect x="884.69" y="203.6" width="1.1" height="16.2" fill="#F23645"/>
<rect x="882.74" y="208.9" width="5.0" height="7.2" fill="#F23645"/>
<rect x="890.78" y="215.3" width="1.1" height="15.7" fill="#F23645"/>
<rect x="888.83" y="215.3" width="5.0" height="10.9" fill="#F23645"/>
<rect x="896.86" y="198.0" width="1.1" height="30.7" fill="#089981"/>
<rect x="894.91" y="202.4" width="5.0" height="24.1" fill="#089981"/>
<rect x="902.94" y="185.7" width="1.1" height="17.9" fill="#089981"/>
<rect x="900.99" y="194.0" width="5.0" height="9.6" fill="#089981"/>
<rect x="909.03" y="186.8" width="1.1" height="19.6" fill="#F23645"/>
<rect x="907.08" y="195.2" width="5.0" height="5.9" fill="#F23645"/>
<rect x="915.11" y="191.3" width="1.1" height="10.0" fill="#089981"/>
<rect x="913.16" y="198.2" width="5.0" height="3.1" fill="#089981"/>
<rect x="921.20" y="193.3" width="1.1" height="9.7" fill="#F23645"/>
<rect x="919.25" y="198.0" width="5.0" height="1.0" fill="#F23645"/>
<rect x="927.28" y="175.5" width="1.1" height="23.1" fill="#089981"/>
<rect x="925.33" y="183.2" width="5.0" height="15.4" fill="#089981"/>
<rect x="933.36" y="181.4" width="1.1" height="14.4" fill="#F23645"/>
<rect x="931.41" y="182.9" width="5.0" height="10.8" fill="#F23645"/>
<rect x="939.45" y="192.8" width="1.1" height="4.8" fill="#089981"/>
<rect x="937.50" y="192.8" width="5.0" height="1.0" fill="#089981"/>
<rect x="945.53" y="192.2" width="1.1" height="7.8" fill="#F23645"/>
<rect x="943.58" y="192.8" width="5.0" height="7.2" fill="#F23645"/>
<rect x="951.62" y="195.2" width="1.1" height="8.3" fill="#089981"/>
<rect x="949.67" y="198.5" width="5.0" height="1.2" fill="#089981"/>
<rect x="957.70" y="197.3" width="1.1" height="6.8" fill="#F23645"/>
<rect x="955.75" y="198.8" width="5.0" height="5.3" fill="#F23645"/>
<rect x="963.78" y="193.0" width="1.1" height="14.1" fill="#089981"/>
<rect x="961.83" y="201.8" width="5.0" height="1.7" fill="#089981"/>
<rect x="969.87" y="194.0" width="1.1" height="14.3" fill="#F23645"/>
<rect x="967.92" y="201.8" width="5.0" height="1.7" fill="#F23645"/>
<rect x="975.95" y="185.3" width="1.1" height="29.0" fill="#089981"/>
<rect x="974.00" y="192.2" width="5.0" height="12.5" fill="#089981"/>
<rect x="982.03" y="189.4" width="1.1" height="6.9" fill="#F23645"/>
<rect x="980.08" y="192.2" width="5.0" height="4.1" fill="#F23645"/>
<rect x="988.12" y="177.7" width="1.1" height="19.1" fill="#089981"/>
<rect x="986.17" y="181.0" width="5.0" height="15.8" fill="#089981"/>
<rect x="994.20" y="169.2" width="1.1" height="12.3" fill="#089981"/>
<rect x="992.25" y="174.0" width="5.0" height="7.5" fill="#089981"/>
<rect x="1000.29" y="148.8" width="1.1" height="25.8" fill="#089981"/>
<rect x="998.34" y="162.0" width="5.0" height="12.6" fill="#089981"/>
<rect x="1006.37" y="146.0" width="1.1" height="26.8" fill="#089981"/>
<rect x="1004.42" y="147.6" width="5.0" height="14.4" fill="#089981"/>
<rect x="1012.45" y="145.2" width="1.1" height="13.2" fill="#F23645"/>
<rect x="1010.50" y="148.0" width="5.0" height="10.4" fill="#F23645"/>
<rect x="1018.54" y="156.8" width="1.1" height="3.4" fill="#F23645"/>
<rect x="1016.59" y="158.0" width="5.0" height="1.0" fill="#F23645"/>
<rect x="1024.62" y="157.2" width="1.1" height="14.4" fill="#F23645"/>
<rect x="1022.67" y="157.2" width="5.0" height="14.4" fill="#F23645"/>
<rect x="1030.70" y="165.6" width="1.1" height="9.0" fill="#089981"/>
<rect x="1028.75" y="170.0" width="5.0" height="1.0" fill="#089981"/>
<rect x="1036.79" y="169.2" width="1.1" height="8.0" fill="#F23645"/>
<rect x="1034.84" y="170.0" width="5.0" height="6.4" fill="#F23645"/>
<rect x="1042.87" y="146.8" width="1.1" height="29.6" fill="#089981"/>
<rect x="1040.92" y="149.1" width="5.0" height="27.3" fill="#089981"/>
<rect x="1048.96" y="139.2" width="1.1" height="18.6" fill="#F23645"/>
<rect x="1047.01" y="149.0" width="5.0" height="7.7" fill="#F23645"/>
<rect x="1055.04" y="151.2" width="1.1" height="13.4" fill="#F23645"/>
<rect x="1053.09" y="156.2" width="5.0" height="3.4" fill="#F23645"/>
<rect x="1061.12" y="158.5" width="1.1" height="30.2" fill="#F23645"/>
<rect x="1059.17" y="158.5" width="5.0" height="27.4" fill="#F23645"/>
<rect x="1067.21" y="176.9" width="1.1" height="13.2" fill="#F23645"/>
<rect x="1065.26" y="185.3" width="5.0" height="4.8" fill="#F23645"/>
<rect x="1073.29" y="182.3" width="1.1" height="7.1" fill="#089981"/>
<rect x="1071.34" y="187.0" width="5.0" height="2.4" fill="#089981"/>
<rect x="1079.38" y="182.3" width="1.1" height="10.5" fill="#F23645"/>
<rect x="1077.42" y="187.0" width="5.0" height="5.8" fill="#F23645"/>
<rect x="1085.46" y="184.2" width="1.1" height="12.3" fill="#089981"/>
<rect x="1083.51" y="191.2" width="5.0" height="1.0" fill="#089981"/>
<rect x="1091.54" y="185.3" width="1.1" height="6.2" fill="#089981"/>
<rect x="1089.59" y="186.8" width="5.0" height="4.7" fill="#089981"/>
<rect x="1097.63" y="186.8" width="1.1" height="3.8" fill="#F23645"/>
<rect x="1095.68" y="186.8" width="5.0" height="3.8" fill="#F23645"/>
<rect x="1103.71" y="185.3" width="1.1" height="5.3" fill="#089981"/>
<rect x="1101.76" y="185.3" width="5.0" height="5.3" fill="#089981"/>
<rect x="1109.79" y="182.3" width="1.1" height="13.3" fill="#F23645"/>
<rect x="1107.84" y="184.8" width="5.0" height="10.8" fill="#F23645"/>
<rect x="1115.88" y="188.6" width="1.1" height="16.1" fill="#F23645"/>
<rect x="1113.93" y="195.3" width="5.0" height="7.3" fill="#F23645"/>
<rect x="1121.96" y="190.6" width="1.1" height="20.8" fill="#089981"/>
<rect x="1120.01" y="193.7" width="5.0" height="8.9" fill="#089981"/>
<rect x="1128.05" y="189.6" width="1.1" height="19.2" fill="#F23645"/>
<rect x="1126.10" y="194.1" width="5.0" height="1.2" fill="#F23645"/>
<rect x="1134.13" y="191.2" width="1.1" height="8.8" fill="#089981"/>
<rect x="1132.18" y="191.2" width="5.0" height="4.6" fill="#089981"/>
<rect x="1140.21" y="189.6" width="1.1" height="4.1" fill="#089981"/>
<rect x="1138.26" y="191.2" width="5.0" height="1.0" fill="#089981"/>
<rect x="1146.30" y="189.6" width="1.1" height="8.8" fill="#F23645"/>
<rect x="1144.35" y="190.9" width="5.0" height="1.0" fill="#F23645"/>
<rect x="1152.38" y="189.6" width="1.1" height="18.2" fill="#F23645"/>
<rect x="1150.43" y="189.6" width="5.0" height="18.2" fill="#F23645"/>
<rect x="1158.46" y="170.9" width="1.1" height="36.9" fill="#089981"/>
<rect x="1156.51" y="188.6" width="5.0" height="19.2" fill="#089981"/>
<rect x="1164.55" y="187.5" width="1.1" height="10.9" fill="#F23645"/>
<rect x="1162.60" y="187.5" width="5.0" height="2.6" fill="#F23645"/>
<rect x="1170.63" y="187.7" width="1.1" height="21.9" fill="#F23645"/>
<rect x="1168.68" y="189.5" width="5.0" height="15.0" fill="#F23645"/>
<rect x="1176.72" y="201.8" width="1.1" height="11.3" fill="#F23645"/>
<rect x="1174.77" y="204.2" width="5.0" height="6.5" fill="#F23645"/>
<rect x="1182.80" y="197.1" width="1.1" height="14.4" fill="#089981"/>
<rect x="1180.85" y="201.8" width="5.0" height="9.1" fill="#089981"/>
<rect x="1188.88" y="200.0" width="1.1" height="18.6" fill="#F23645"/>
<rect x="1186.93" y="201.3" width="5.0" height="13.4" fill="#F23645"/>
<rect x="1194.97" y="202.6" width="1.1" height="19.2" fill="#089981"/>
<rect x="1193.02" y="204.2" width="5.0" height="10.9" fill="#089981"/>
<rect x="1201.05" y="186.9" width="1.1" height="33.6" fill="#F23645"/>
<rect x="1199.10" y="204.2" width="5.0" height="10.9" fill="#F23645"/>
<rect x="1207.13" y="212.2" width="1.1" height="8.6" fill="#F23645"/>
<rect x="1205.18" y="215.4" width="5.0" height="1.0" fill="#F23645"/>
<rect x="1213.22" y="220.2" width="1.1" height="61.5" fill="#F23645"/>
<rect x="1211.27" y="220.2" width="5.0" height="56.2" fill="#F23645"/>
<rect x="1219.30" y="266.5" width="1.1" height="26.6" fill="#F23645"/>
<rect x="1217.35" y="276.1" width="5.0" height="12.4" fill="#F23645"/>
<rect x="1225.39" y="274.1" width="1.1" height="14.4" fill="#089981"/>
<rect x="1223.44" y="287.5" width="5.0" height="1.0" fill="#089981"/>
<rect x="1231.47" y="271.8" width="1.1" height="20.5" fill="#089981"/>
<rect x="1229.52" y="274.1" width="5.0" height="12.9" fill="#089981"/>
<rect x="1237.55" y="233.9" width="1.1" height="43.7" fill="#089981"/>
<rect x="1235.60" y="243.7" width="5.0" height="31.2" fill="#089981"/>
<rect x="1243.64" y="240.7" width="1.1" height="23.5" fill="#F23645"/>
<rect x="1241.69" y="243.7" width="5.0" height="15.2" fill="#F23645"/>
<rect x="1249.72" y="225.5" width="1.1" height="33.4" fill="#089981"/>
<rect x="1247.77" y="238.1" width="5.0" height="20.8" fill="#089981"/>
<rect x="1255.81" y="236.1" width="1.1" height="9.9" fill="#F23645"/>
<rect x="1253.86" y="238.1" width="5.0" height="5.6" fill="#F23645"/>
<rect x="1261.89" y="242.3" width="1.1" height="21.2" fill="#F23645"/>
<rect x="1259.94" y="243.7" width="5.0" height="1.7" fill="#F23645"/>
<rect x="1267.97" y="227.5" width="1.1" height="18.0" fill="#089981"/>
<rect x="1266.02" y="240.9" width="5.0" height="4.6" fill="#089981"/>
<rect x="1274.06" y="209.5" width="1.1" height="31.7" fill="#089981"/>
<rect x="1272.11" y="212.7" width="5.0" height="28.5" fill="#089981"/>
<rect x="1280.14" y="209.2" width="1.1" height="9.0" fill="#089981"/>
<rect x="1278.19" y="211.7" width="5.0" height="1.0" fill="#089981"/>
<rect x="1286.22" y="209.2" width="1.1" height="7.5" fill="#F23645"/>
<rect x="1284.27" y="212.4" width="5.0" height="4.3" fill="#F23645"/>
<rect x="1292.31" y="209.2" width="1.1" height="7.5" fill="#089981"/>
<rect x="1290.36" y="213.1" width="5.0" height="3.6" fill="#089981"/>
<rect x="1298.39" y="198.7" width="1.1" height="16.6" fill="#089981"/>
<rect x="1296.44" y="201.6" width="5.0" height="11.5" fill="#089981"/>
<rect x="1304.48" y="188.7" width="1.1" height="18.7" fill="#089981"/>
<rect x="1302.53" y="196.3" width="5.0" height="6.0" fill="#089981"/>
<rect x="1310.56" y="183.2" width="1.1" height="18.4" fill="#089981"/>
<rect x="1308.61" y="192.4" width="5.0" height="4.4" fill="#089981"/>
<rect x="1316.64" y="191.2" width="1.1" height="8.8" fill="#F23645"/>
<rect x="1314.69" y="192.0" width="5.0" height="8.0" fill="#F23645"/>
<rect x="1322.73" y="200.0" width="1.1" height="3.6" fill="#F23645"/>
<rect x="1320.78" y="200.0" width="5.0" height="3.6" fill="#F23645"/>
<rect x="1328.81" y="200.9" width="1.1" height="6.7" fill="#F23645"/>
<rect x="1326.86" y="203.2" width="5.0" height="4.4" fill="#F23645"/>
<rect x="1334.89" y="206.2" width="1.1" height="6.5" fill="#F23645"/>
<rect x="1332.94" y="206.8" width="5.0" height="5.9" fill="#F23645"/>
<rect x="1340.98" y="211.8" width="1.1" height="11.7" fill="#F23645"/>
<rect x="1339.03" y="212.3" width="5.0" height="9.2" fill="#F23645"/>
<rect x="1347.06" y="215.1" width="1.1" height="10.4" fill="#089981"/>
<rect x="1345.11" y="217.1" width="5.0" height="4.8" fill="#089981"/>
<rect x="1353.15" y="204.0" width="1.1" height="14.7" fill="#089981"/>
<rect x="1351.20" y="210.0" width="5.0" height="7.5" fill="#089981"/>
<rect x="1359.23" y="207.3" width="1.1" height="3.4" fill="#089981"/>
<rect x="1357.28" y="209.3" width="5.0" height="1.4" fill="#089981"/>
<rect x="1365.31" y="207.1" width="1.1" height="6.4" fill="#F23645"/>
<rect x="1363.36" y="210.1" width="5.0" height="3.4" fill="#F23645"/>
<rect x="1371.40" y="208.5" width="1.1" height="6.9" fill="#089981"/>
<rect x="1369.45" y="208.5" width="5.0" height="5.0" fill="#089981"/>
<rect x="1377.48" y="203.1" width="1.1" height="8.2" fill="#F23645"/>
<rect x="1375.53" y="208.2" width="5.0" height="3.1" fill="#F23645"/>
<rect x="1383.57" y="211.8" width="1.1" height="5.6" fill="#F23645"/>
<rect x="1381.62" y="211.8" width="5.0" height="4.2" fill="#F23645"/>
</g>
<line x1="13" y1="216.8" x2="1448" y2="216.8" stroke="#F23645" stroke-width="1.3" stroke-dasharray="1.35 1.35"/>
<g clip-path="url(#cmo)"><polyline points="9.2,361.0 15.3,363.3 21.3,364.7 27.4,362.0 33.5,358.1 39.6,362.0 45.7,363.1 51.8,369.8 57.8,390.2 63.9,393.3 70.0,385.5 76.1,383.2 82.2,379.2 88.3,386.2 94.3,391.4 100.4,389.9 106.5,390.8 112.6,380.0 118.7,356.6 124.8,348.3 130.9,344.6 136.9,352.4 143.0,352.6 149.1,345.7 155.2,348.3 161.3,351.9 167.4,352.9 173.4,353.4 179.5,356.8 185.6,361.3 191.7,372.1 197.8,367.1 203.9,369.7 209.9,370.4 216.0,363.5 222.1,359.9 228.2,357.1 234.3,362.9 240.4,360.3 246.4,355.5 252.5,353.7 258.6,353.3 264.7,354.9 270.8,352.8 276.9,349.5 282.9,354.0 289.0,353.5 295.1,353.1 301.2,352.9 307.3,356.3 313.4,357.1 319.4,354.0 325.5,367.1 331.6,365.9 337.7,367.5 343.8,362.8 349.9,363.7 356.0,363.1 362.0,377.4 368.1,375.5 374.2,376.9 380.3,382.4 386.4,361.5 392.5,367.9 398.5,376.5 404.6,390.7 410.7,396.8 416.8,392.9 422.9,378.7 429.0,376.8 435.0,372.2 441.1,374.0 447.2,375.7 453.3,372.6 459.4,365.9 465.5,350.1 471.5,341.9 477.6,323.7 483.7,331.6 489.8,335.3 495.9,340.1 502.0,335.4 508.0,333.7 514.1,334.9 520.2,344.1 526.3,351.0 532.4,356.4 538.5,377.1 544.6,373.6 550.6,380.2 556.7,378.7 562.8,378.9 568.9,382.8 575.0,382.9 581.1,379.0 587.1,371.6 593.2,369.2 599.3,370.8 605.4,368.0 611.5,359.4 617.6,360.4 623.6,361.4 629.7,374.7 635.8,375.3 641.9,370.3 648.0,373.5 654.1,379.4 660.1,379.1 666.2,383.6 672.3,383.0 678.4,380.8 684.5,368.7 690.6,360.1 696.6,357.2 702.7,357.5 708.8,347.6 714.9,340.6 721.0,338.8 727.1,334.5 733.1,334.8 739.2,338.0 745.3,349.9 751.4,349.4 757.5,350.5 763.6,351.8 769.7,358.9 775.7,361.6 781.8,361.0 787.9,359.7 794.0,361.0 800.1,359.8 806.2,365.0 812.2,357.0 818.3,358.8 824.4,362.7 830.5,364.9 836.6,361.6 842.7,358.5 848.7,356.0 854.8,353.8 860.9,336.2 867.0,327.8 873.1,332.5 879.2,339.6 885.2,336.9 891.3,342.0 897.4,332.0 903.5,333.5 909.6,339.8 915.7,340.2 921.7,358.1 927.8,355.0 933.9,360.1 940.0,351.5 946.1,351.9 952.2,346.3 958.2,360.5 964.3,363.5 970.4,360.9 976.5,356.8 982.6,358.6 988.7,358.6 994.8,350.2 1000.8,344.8 1006.9,334.4 1013.0,340.3 1019.1,337.8 1025.2,345.1 1031.3,343.5 1037.3,352.1 1043.4,336.9 1049.5,348.0 1055.6,352.7 1061.7,371.2 1067.8,380.2 1073.8,373.5 1079.9,376.2 1086.0,369.2 1092.1,367.8 1098.2,366.6 1104.3,377.2 1110.3,378.5 1116.4,380.5 1122.5,363.5 1128.6,362.2 1134.7,361.7 1140.8,358.9 1146.8,359.9 1152.9,369.8 1159.0,358.7 1165.1,362.0 1171.2,364.0 1177.3,363.6 1183.3,363.6 1189.4,369.1 1195.5,366.0 1201.6,371.2 1207.7,371.3 1213.8,392.8 1219.9,408.0 1225.9,406.8 1232.0,393.3 1238.1,375.6 1244.2,387.3 1250.3,371.0 1256.4,378.8 1262.4,374.3 1268.5,371.9 1274.6,328.9 1280.7,322.6 1286.8,325.5 1292.9,330.2 1298.9,339.4 1305.0,329.5 1311.1,337.6 1317.2,338.6 1323.3,339.5 1329.4,343.6 1335.4,359.7 1341.5,364.4 1347.6,359.9 1353.7,358.2 1359.8,363.4 1365.9,368.0 1371.9,367.5 1378.0,365.2 1384.1,365.7" fill="none" stroke="#2196f3" stroke-width="1.35" stroke-linejoin="round"/></g>
<g clip-path="url(#cr)"><polyline points="9.2,491.0 15.3,489.8 21.3,496.7 27.4,491.2 33.5,487.4 39.6,489.4 45.7,489.3 51.8,506.2 57.8,536.9 63.9,541.8 70.0,522.5 76.1,512.7 82.2,509.0 88.3,515.6 94.3,520.0 100.4,517.9 106.5,518.9 112.6,505.9 118.7,502.0 124.8,498.5 130.9,477.0 136.9,483.7 143.0,481.2 149.1,478.7 155.2,490.9 161.3,495.5 167.4,498.4 173.4,488.6 179.5,491.6 185.6,496.7 191.7,496.7 197.8,493.6 203.9,496.1 209.9,494.0 216.0,493.6 222.1,491.3 228.2,488.4 234.3,491.4 240.4,488.7 246.4,482.7 252.5,477.2 258.6,472.2 264.7,481.9 270.8,473.4 276.9,464.5 282.9,477.0 289.0,473.0 295.1,475.3 301.2,472.4 307.3,477.8 313.4,474.9 319.4,461.8 325.5,502.0 331.6,492.1 337.7,487.8 343.8,485.9 349.9,484.3 356.0,484.6 362.0,509.7 368.1,508.8 374.2,509.4 380.3,510.5 386.4,496.5 392.5,500.8 398.5,511.9 404.6,527.2 410.7,531.7 416.8,522.2 422.9,519.8 429.0,514.2 435.0,504.3 441.1,507.8 447.2,500.5 453.3,498.5 459.4,498.5 465.5,492.7 471.5,486.1 477.6,452.4 483.7,465.6 489.8,468.2 495.9,469.3 502.0,466.3 508.0,459.8 514.1,460.5 520.2,478.4 526.3,485.9 532.4,489.9 538.5,487.6 544.6,493.1 550.6,504.3 556.7,502.5 562.8,498.6 568.9,496.4 575.0,497.1 581.1,505.3 587.1,498.8 593.2,499.0 599.3,499.6 605.4,500.9 611.5,499.2 617.6,499.4 623.6,496.6 629.7,518.8 635.8,520.1 641.9,520.4 648.0,521.1 654.1,529.3 660.1,529.3 666.2,535.2 672.3,530.7 678.4,522.9 684.5,486.7 690.6,493.6 696.6,489.5 702.7,490.4 708.8,471.5 714.9,469.9 721.0,466.7 727.1,469.0 733.1,467.3 739.2,470.4 745.3,468.1 751.4,477.0 757.5,475.3 763.6,480.3 769.7,474.3 775.7,479.6 781.8,473.3 787.9,472.4 794.0,473.5 800.1,473.5 806.2,486.9 812.2,473.0 818.3,476.5 824.4,492.4 830.5,491.8 836.6,487.1 842.7,472.0 848.7,465.4 854.8,461.5 860.9,436.7 867.0,432.7 873.1,432.7 879.2,454.8 885.2,462.0 891.3,472.5 897.4,456.9 903.5,452.5 909.6,459.6 915.7,457.8 921.7,458.3 927.8,449.4 933.9,460.4 940.0,459.9 946.1,467.4 952.2,466.3 958.2,472.2 964.3,470.3 970.4,472.2 976.5,462.7 982.6,467.6 988.7,456.1 994.8,451.7 1000.8,444.9 1006.9,438.1 1013.0,450.7 1019.1,451.1 1025.2,465.1 1031.3,464.0 1037.3,470.6 1043.4,453.3 1049.5,460.7 1055.6,463.5 1061.7,484.9 1067.8,487.8 1073.8,485.4 1079.9,489.7 1086.0,488.3 1092.1,484.4 1098.2,487.6 1104.3,482.7 1110.3,491.5 1116.4,497.0 1122.5,488.2 1128.6,489.6 1134.7,485.5 1140.8,485.5 1146.8,486.0 1152.9,500.9 1159.0,481.3 1165.1,482.7 1171.2,494.8 1177.3,499.4 1183.3,490.5 1189.4,500.0 1195.5,490.2 1201.6,497.9 1207.7,498.3 1213.8,526.5 1219.9,530.0 1225.9,529.1 1232.0,517.2 1238.1,495.3 1244.2,502.1 1250.3,489.6 1256.4,492.3 1262.4,493.1 1268.5,490.3 1274.6,474.4 1280.7,473.9 1286.8,477.1 1292.9,475.0 1298.9,468.6 1305.0,465.8 1311.1,463.7 1317.2,469.9 1323.3,472.7 1329.4,476.0 1335.4,480.1 1341.5,486.9 1347.6,483.3 1353.7,477.7 1359.8,477.1 1365.9,481.0 1371.9,476.6 1378.0,479.4 1384.1,484.1" fill="none" stroke="#7e57c2" stroke-width="1.35" stroke-linejoin="round"/></g>
<text x="21.0" y="35.0" font-size="14" fill="#2a2e39" textLength="112.4" lengthAdjust="spacingAndGlyphs">EUR/USD Spot, 4h</text>
<text x="142.0" y="35.0" font-size="14" fill="#2a2e39" textLength="9.8" lengthAdjust="spacingAndGlyphs">O</text>
<text x="152.1" y="35.0" font-size="14" fill="#F23645" textLength="48.9" lengthAdjust="spacingAndGlyphs">1.03825</text>
<text x="208.4" y="35.0" font-size="14" fill="#2a2e39" textLength="9.1" lengthAdjust="spacingAndGlyphs">H</text>
<text x="218.1" y="35.0" font-size="14" fill="#F23645" textLength="48.6" lengthAdjust="spacingAndGlyphs">1.03825</text>
<text x="275.2" y="35.0" font-size="14" fill="#2a2e39" textLength="7.0" lengthAdjust="spacingAndGlyphs">L</text>
<text x="283.6" y="35.0" font-size="14" fill="#F23645" textLength="47.8" lengthAdjust="spacingAndGlyphs">1.03683</text>
<text x="339.8" y="35.0" font-size="14" fill="#2a2e39" textLength="9.1" lengthAdjust="spacingAndGlyphs">C</text>
<text x="349.3" y="35.0" font-size="14" fill="#F23645" textLength="47.2" lengthAdjust="spacingAndGlyphs">1.03731</text>
<text x="405.6" y="35.0" font-size="14" fill="#F23645" textLength="113.6" lengthAdjust="spacingAndGlyphs">−0.00094 (−0.09%)</text>
<text x="20.8" y="54.6" font-size="14" fill="#2a2e39" textLength="105.2" lengthAdjust="spacingAndGlyphs">MA (20, close, 0)</text>
<text x="20.8" y="74.0" font-size="14" fill="#2a2e39" textLength="112.6" lengthAdjust="spacingAndGlyphs">MA (100, close, 0)</text>
<text x="20.8" y="93.5" font-size="14" fill="#2a2e39" textLength="112.6" lengthAdjust="spacingAndGlyphs">MA (200, close, 0)</text>
<text x="20.8" y="113.0" font-size="14" fill="#2a2e39" textLength="105.2" lengthAdjust="spacingAndGlyphs">MA (55, close, 0)</text>
<text x="20.8" y="335.6" font-size="14" fill="#2a2e39" textLength="99.4" lengthAdjust="spacingAndGlyphs">Mom (10, close)</text>
<text x="128.8" y="335.6" font-size="14" fill="#2196f3" textLength="56.4" lengthAdjust="spacingAndGlyphs">−0.00256</text>
<text x="20.6" y="440.8" font-size="14" fill="#2a2e39" textLength="47.8" lengthAdjust="spacingAndGlyphs">RSI (14)</text>
<text x="77.7" y="440.8" font-size="14" fill="#7e57c2" textLength="34.9" lengthAdjust="spacingAndGlyphs">49.18</text>
<g clip-path="url(#cax1)">
<text x="1456.9" y="17.6" font-size="14.2" fill="#2a2e39" textLength="49.6" lengthAdjust="spacingAndGlyphs">1.08000</text>
<text x="1456.9" y="65.8" font-size="14.2" fill="#2a2e39" textLength="49.6" lengthAdjust="spacingAndGlyphs">1.07000</text>
<text x="1456.9" y="113.4" font-size="14.2" fill="#2a2e39" textLength="49.6" lengthAdjust="spacingAndGlyphs">1.06000</text>
<text x="1456.9" y="161.0" font-size="14.2" fill="#2a2e39" textLength="49.6" lengthAdjust="spacingAndGlyphs">1.05000</text>
<text x="1456.9" y="208.7" font-size="14.2" fill="#2a2e39" textLength="49.6" lengthAdjust="spacingAndGlyphs">1.04000</text>
<text x="1456.9" y="256.3" font-size="14.2" fill="#2a2e39" textLength="49.6" lengthAdjust="spacingAndGlyphs">1.03000</text>
<text x="1456.9" y="303.9" font-size="14.2" fill="#2a2e39" textLength="49.6" lengthAdjust="spacingAndGlyphs">1.02000</text>
</g>
<g clip-path="url(#cax2)">
<text x="1456.9" y="319.5" font-size="14.2" fill="#2a2e39" textLength="49.6" lengthAdjust="spacingAndGlyphs">0.02000</text>
<text x="1456.9" y="365.6" font-size="14.2" fill="#2a2e39" textLength="49.6" lengthAdjust="spacingAndGlyphs">0.00000</text>
</g>
<text x="1457.4" y="411.5" font-size="14.2" fill="#2a2e39" textLength="55.8" lengthAdjust="spacingAndGlyphs">−0.02000</text>
<text x="1457.2" y="433.6" font-size="14.2" fill="#2a2e39" textLength="34.4" lengthAdjust="spacingAndGlyphs">80.00</text>
<text x="1457.2" y="470.3" font-size="14.2" fill="#2a2e39" textLength="34.4" lengthAdjust="spacingAndGlyphs">60.00</text>
<text x="1457.2" y="506.9" font-size="14.2" fill="#2a2e39" textLength="34.4" lengthAdjust="spacingAndGlyphs">40.00</text>
<text x="1457.2" y="543.5" font-size="14.2" fill="#2a2e39" textLength="34.4" lengthAdjust="spacingAndGlyphs">20.00</text>
<path d="M1448 207H1510.5Q1513 207 1513 209.5V223.8Q1513 226.3 1510.5 226.3H1448Z" fill="#F23645"/>
<text x="1458.0" y="222.1" font-size="14.5" fill="#ffffff" stroke="#ffffff" stroke-width="0.35" textLength="46.7" lengthAdjust="spacingAndGlyphs">1.03731</text>
<path d="M1448 357H1517.5Q1520 357 1520 359.5V373.3Q1520 375.8 1517.5 375.8H1448Z" fill="#2196f3"/>
<text x="1458.0" y="371.8" font-size="14.5" fill="#ffffff" stroke="#ffffff" stroke-width="0.35" textLength="55.0" lengthAdjust="spacingAndGlyphs">−0.00256</text>
<path d="M1448 474.8H1495.0Q1497.5 474.8 1497.5 477.3V491.3Q1497.5 493.8 1495.0 493.8H1448Z" fill="#7e57c2"/>
<text x="1458.0" y="489.7" font-size="14.5" fill="#ffffff" stroke="#ffffff" stroke-width="0.35" textLength="33.5" lengthAdjust="spacingAndGlyphs">49.18</text>
<text x="70.0" y="574.2" font-size="13.6" fill="#2a2e39" text-anchor="middle">19</text>
<text x="185.0" y="574.2" font-size="13.6" fill="#2a2e39" text-anchor="middle">24</text>
<text x="282.7" y="574.2" font-size="13.6" fill="#2a2e39" text-anchor="middle">12:00</text>
<text x="379.7" y="574.2" font-size="13.6" fill="#2a2e39" font-weight="bold" text-anchor="middle">2025</text>
<text x="501.5" y="574.2" font-size="13.6" fill="#2a2e39" text-anchor="middle">7</text>
<text x="611.0" y="574.2" font-size="13.6" fill="#2a2e39" text-anchor="middle">10</text>
<text x="726.8" y="574.2" font-size="13.6" fill="#2a2e39" text-anchor="middle">15</text>
<text x="836.6" y="574.2" font-size="13.6" fill="#2a2e39" text-anchor="middle">19</text>
<text x="951.8" y="574.2" font-size="13.6" fill="#2a2e39" text-anchor="middle">23</text>
<text x="1067.5" y="574.2" font-size="13.6" fill="#2a2e39" text-anchor="middle">28</text>
<text x="1213.3" y="574.2" font-size="13.6" fill="#2a2e39" text-anchor="middle">Feb</text>
<text x="1329.3" y="574.2" font-size="13.6" fill="#2a2e39" text-anchor="middle">6</text>
<text x="1438.4" y="574.2" font-size="13.6" fill="#2a2e39" text-anchor="middle">9</text>
</svg><svg width="130" height="20" style="position:absolute;left:0;top:596px" viewBox="0 596 130 20"><path d="M12 600H20.9V611H16.6V603.8H12Z" fill="#131722"/><circle cx="25" cy="602.4" r="2.5" fill="#131722"/><path d="M30.5 600.1H34.5L29.9 610.9H25.2Z" fill="#131722"/><text x="39.2" y="611" font-family="&quot;Liberation Sans&quot;, sans-serif" font-size="14" fill="#131722" textLength="82.2" lengthAdjust="spacingAndGlyphs">TradingView</text></svg></body></html>
